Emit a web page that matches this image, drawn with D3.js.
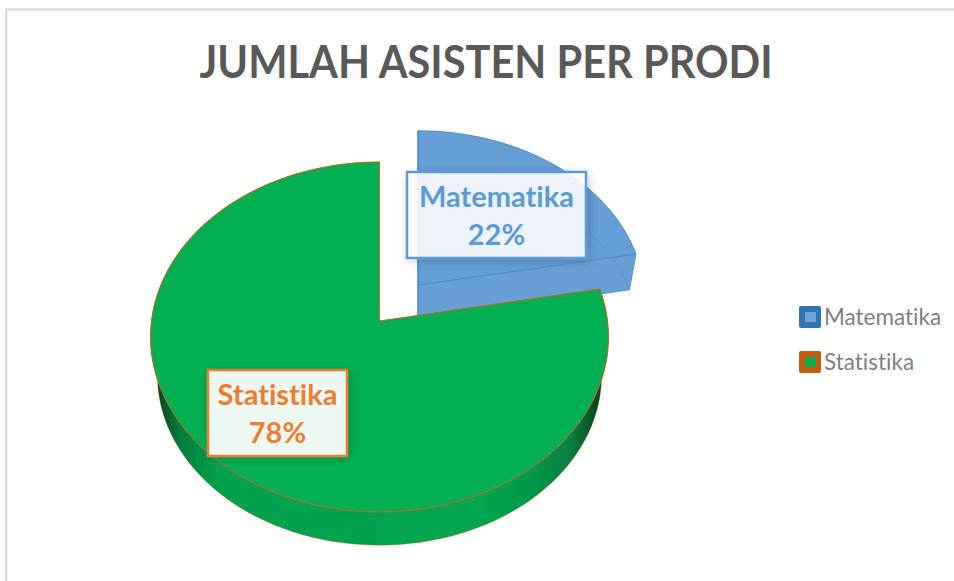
<!DOCTYPE html>
<html>
<head>
<meta charset="utf-8">
<script src="https://cdnjs.cloudflare.com/ajax/libs/d3/7.8.5/d3.min.js"></script>
<style>
  html, body { margin: 0; padding: 0; background: #fff; overflow: hidden; }
  text { font-family: Lato, "Open Sans", sans-serif; font-variant-ligatures: none; }
</style>
</head>
<body>
<div id="chart"></div>
<script>
var categories = ["Matematika", "Statistika"];
var values = [22, 78];
var labels = ["22%", "78%"];

var svgWidth = 954;
var svgHeight = 581;

var svg = d3.select("#chart")
  .append("svg")
  .attr("width", svgWidth)
  .attr("height", svgHeight);

var defs = svg.append("defs");

// side wall of the green slice, dark at both ends
var wallGradient = defs.append("linearGradient")
  .attr("id", "wall")
  .attr("gradientUnits", "userSpaceOnUse")
  .attr("x1", -230).attr("x2", 228).attr("y1", 0).attr("y2", 0);
[[0.01, "#003d1c"], [0.065, "#007d3c"], [0.14, "#00a04a"], [0.72, "#00a64d"],
 [0.83, "#009a48"], [0.917, "#0a8040"], [0.98, "#004a22"]]
  .forEach(function(s) {
    wallGradient.append("stop").attr("offset", s[0]).attr("stop-color", s[1]);
  });

var shadow = defs.append("filter").attr("id", "shadow")
  .attr("x", "-20%").attr("y", "-30%").attr("width", "140%").attr("height", "160%");
shadow.append("feDropShadow")
  .attr("dx", 2).attr("dy", 2).attr("stdDeviation", 5)
  .attr("flood-color", "#000").attr("flood-opacity", 0.2);

// chart frame
svg.append("rect")
  .attr("x", 6.2).attr("y", 9.6)
  .attr("width", svgWidth + 20).attr("height", svgHeight + 20)
  .attr("fill", "none").attr("stroke", "#dcdcdc").attr("stroke-width", 2.5);

svg.append("text")
  .attr("x", 486).attr("y", 78)
  .attr("text-anchor", "middle")
  .attr("font-size", 45).attr("font-weight", 700)
  .attr("fill", "#595959")
  .attr("textLength", 573).attr("lengthAdjust", "spacingAndGlyphs")
  .text("JUMLAH ASISTEN PER PRODI");

// tilted disc: unit circle through a perspective projection
var tiltX = 228, tiltY = 173.5, tiltP = 0.0914;
function project(angle, r) {
  var X = r * Math.sin(angle), Y = r * Math.cos(angle), w = 1 + tiltP * Y;
  return [tiltX * X / w, -tiltY * Y / w];
}

var pieData = d3.pie().sort(null).value(function(d) { return d; })(values);

// the lower rim sits further from the eye, so it is drawn a bit smaller
var rimScale = 0.97;

function arcPoints(d, dy, k) {
  return d3.range(0, 121).map(function(i) {
    var p = project(d.startAngle + (d.endAngle - d.startAngle) * i / 120, 1);
    return [p[0] * k, p[1] * k + dy];
  });
}
function slicePath(d) {
  return d3.line()([[0, 0]].concat(arcPoints(d, 0, 1))) + "Z";
}
function wallPath(d, depth) {
  return d3.line()(arcPoints(d, 0, 1).concat(arcPoints(d, depth, rimScale).reverse())) + "Z";
}

// Matematika, pulled out of the pie and see-through
var blueDepth = 36;
var blue = svg.append("g")
  .attr("transform", "translate(418,285) scale(0.99,0.97)");
var blueEnd = project(pieData[0].endAngle, 1);
blue.append("path")
  .attr("d", wallPath(pieData[0], blueDepth))
  .attr("fill", "#689fd5");
blue.append("path")
  .attr("d", d3.line()([[0, 0], blueEnd,
    [blueEnd[0] * rimScale, blueEnd[1] * rimScale + blueDepth], [0, blueDepth]]) + "Z")
  .attr("fill", "#689fd5")
  .attr("stroke", "#5a93ce").attr("stroke-width", 1);
blue.append("path")
  .attr("d", slicePath(pieData[0]))
  .attr("fill", "#659fd6")
  .attr("stroke", "#4f8bc9").attr("stroke-width", 1);
blue.append("path")
  .attr("d", d3.line()(arcPoints(pieData[0], blueDepth, rimScale)))
  .attr("fill", "none")
  .attr("stroke", "#5b94cf").attr("stroke-width", 0.8);
blue.append("path")
  .attr("d", d3.line()([project(pieData[0].startAngle, 1), [0, blueDepth]]))
  .attr("stroke", "#4f8bc9").attr("stroke-width", 1.5);

// Statistika
var green = svg.append("g")
  .attr("transform", "translate(379.5,321)");
green.append("path")
  .attr("d", wallPath(pieData[1], 39))
  .attr("fill", "url(#wall)")
  .attr("stroke", "#c55a11").attr("stroke-width", 0.6).attr("stroke-opacity", 0.5);
green.append("path")
  .attr("d", slicePath(pieData[1]))
  .attr("fill", "#00b050")
  .attr("stroke", "#c4651c").attr("stroke-width", 1);

// data labels
var labelBoxes = [
  { x: 407, y: 172, w: 179, h: 86, color: "#5b9bd5", fill: "#fff", opacity: 0.88 },
  { x: 208, y: 370, w: 139, h: 86, color: "#ed7d31", fill: "#fff", opacity: 0.92 }
];
categories.forEach(function(name, i) {
  var b = labelBoxes[i];
  var g = svg.append("g");
  g.append("rect")
    .attr("x", b.x).attr("y", b.y).attr("width", b.w).attr("height", b.h)
    .attr("fill", b.fill).attr("fill-opacity", b.opacity)
    .attr("stroke", b.color).attr("stroke-width", 2.5)
    .attr("filter", "url(#shadow)");
  g.append("text")
    .attr("x", b.x + b.w / 2).attr("y", b.y + 35)
    .attr("text-anchor", "middle")
    .attr("font-size", 29).attr("font-weight", 700)
    .attr("fill", b.color)
    .text(name);
  g.append("text")
    .attr("x", b.x + b.w / 2).attr("y", b.y + 73)
    .attr("text-anchor", "middle")
    .attr("font-size", 29).attr("font-weight", 700)
    .attr("fill", b.color)
    .text(labels[i]);
});

// legend
var legendColors = [
  { outer: "#2e75b6", inner: "#6fa3d8" },
  { outer: "#c55a11", inner: "#00b050" }
];
var legendY = d3.scalePoint().domain(categories).range([317, 362]);
var legend = svg.selectAll(".legend")
  .data(categories)
  .enter()
  .append("g")
  .attr("class", "legend")
  .attr("transform", function(d) { return "translate(0," + legendY(d) + ")"; });
legend.append("rect")
  .attr("x", 799).attr("y", -11).attr("width", 22).attr("height", 22).attr("rx", 2)
  .attr("fill", function(d, i) { return legendColors[i].outer; });
legend.append("rect")
  .attr("x", 805).attr("y", -5).attr("width", 11).attr("height", 10)
  .attr("fill", function(d, i) { return legendColors[i].inner; });
legend.append("text")
  .attr("x", 824).attr("y", 8)
  .attr("font-size", 22.5)
  .attr("fill", "#7f7f7f")
  .text(function(d) { return d; });
</script>
</body>
</html>
